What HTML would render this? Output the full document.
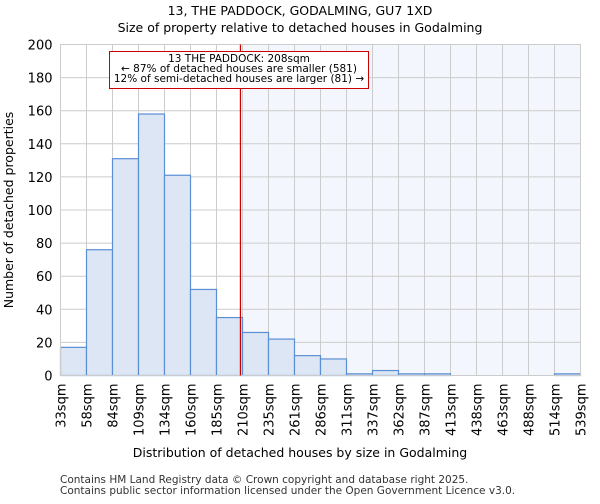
<!DOCTYPE html>
<html><head><meta charset="utf-8"><style>
body{margin:0;background:#fff;font-family:"DejaVu Sans","Liberation Sans",sans-serif}
text{font-family:"DejaVu Sans","Liberation Sans",sans-serif}
</style></head><body>
<svg id="c" width="600" height="500" xmlns="http://www.w3.org/2000/svg">
<text x="300" y="15" text-anchor="middle" font-size="12.5">13, THE PADDOCK, GODALMING, GU7 1XD</text>
<text x="300" y="32" text-anchor="middle" font-size="12.5">Size of property relative to detached houses in Godalming</text>
<g id="plot"></g>
<text x="300" y="457" text-anchor="middle" font-size="12.5">Distribution of detached houses by size in Godalming</text>
<text transform="translate(13,210) rotate(-90)" text-anchor="middle" font-size="12.5">Number of detached properties</text>
<text x="60" y="483" font-size="10.5" fill="#333">Contains HM Land Registry data © Crown copyright and database right 2025.</text>
<text x="60" y="494" font-size="10.5" fill="#333">Contains public sector information licensed under the Open Government Licence v3.0.</text>
</svg>
<script>
const binLabels=["33sqm","58sqm","84sqm","109sqm","134sqm","160sqm","185sqm","210sqm","235sqm","261sqm","286sqm","311sqm","337sqm","362sqm","387sqm","413sqm","438sqm","463sqm","488sqm","514sqm","539sqm"];
const binEdges=[33,58,84,109,134,160,185,210,235,261,286,311,337,362,387,413,438,463,488,514,539];
const counts=[17,76,131,158,121,52,35,26,22,12,10,1,3,1,1,0,0,0,0,1];
const yTicks=[0,20,40,60,80,100,120,140,160,180,200];
const subjectSize=208;
const L=60.5,R=580.5,T=44.5,B=375.5;
const NS="http://www.w3.org/2000/svg";
const g=document.getElementById('plot');
const xi=i=>L+(R-L)*i/(binEdges.length-1);
const xv=v=>{for(let i=0;i<binEdges.length-1;i++){if(v<=binEdges[i+1])return xi(i)+(v-binEdges[i])/(binEdges[i+1]-binEdges[i])*(xi(i+1)-xi(i));}return R;};
const y=v=>B-(B-T)*v/200;
function mk(t,a,p){const e=document.createElementNS(NS,t);for(const k in a)e.setAttribute(k,a[k]);(p||g).appendChild(e);return e;}
const sx=xv(subjectSize);
let sh=mk('rect',{x:sx,y:T,width:R-sx,height:B-T,fill:'#f4f6fd'});


yTicks.forEach(t=>{
 let l=mk('line',{x1:L,x2:R,y1:y(t),y2:y(t),stroke:'#ccc'});
 
 
 let tx=mk('text',{x:L-8,y:y(t)+5,'text-anchor':'end','font-size':'13'});tx.textContent=t;
 
 
});
binEdges.forEach((e,i)=>{
 let l=mk('line',{x1:xi(i),x2:xi(i),y1:T,y2:B,stroke:'#ccc'});
 
 
 let tx=mk('text',{transform:`translate(${xi(i)+5},${B+8}) rotate(-90)`,'text-anchor':'end','font-size':'13'});tx.textContent=binLabels[i];
 
 
});
counts.forEach((c,i)=>{
 if(c<=0)return;
 let r=mk('rect',{x:xi(i),y:y(c),width:xi(i+1)-xi(i),height:B-y(c),fill:'#dce6f4',stroke:'#5b8fd4','stroke-width':1.2});
 
 
});
let ax=mk('rect',{x:L,y:T,width:R-L,height:B-T,fill:'none',stroke:'#ccc'});


let ml=mk('line',{x1:sx,x2:sx,y1:T,y2:B,stroke:'#cc0000','stroke-width':1.2});


let bx=mk('rect',{x:109.5,y:51.5,width:259,height:37,fill:'#fff',stroke:'#cc0000'});


["13 THE PADDOCK: 208sqm","← 87% of detached houses are smaller (581)","12% of semi-detached houses are larger (81) →"].forEach((s,i)=>{
 let t=mk('text',{x:239,y:62+i*10,'text-anchor':'middle','font-size':'10.5'});t.textContent=s;
 
 
});
</script>
</body></html>
